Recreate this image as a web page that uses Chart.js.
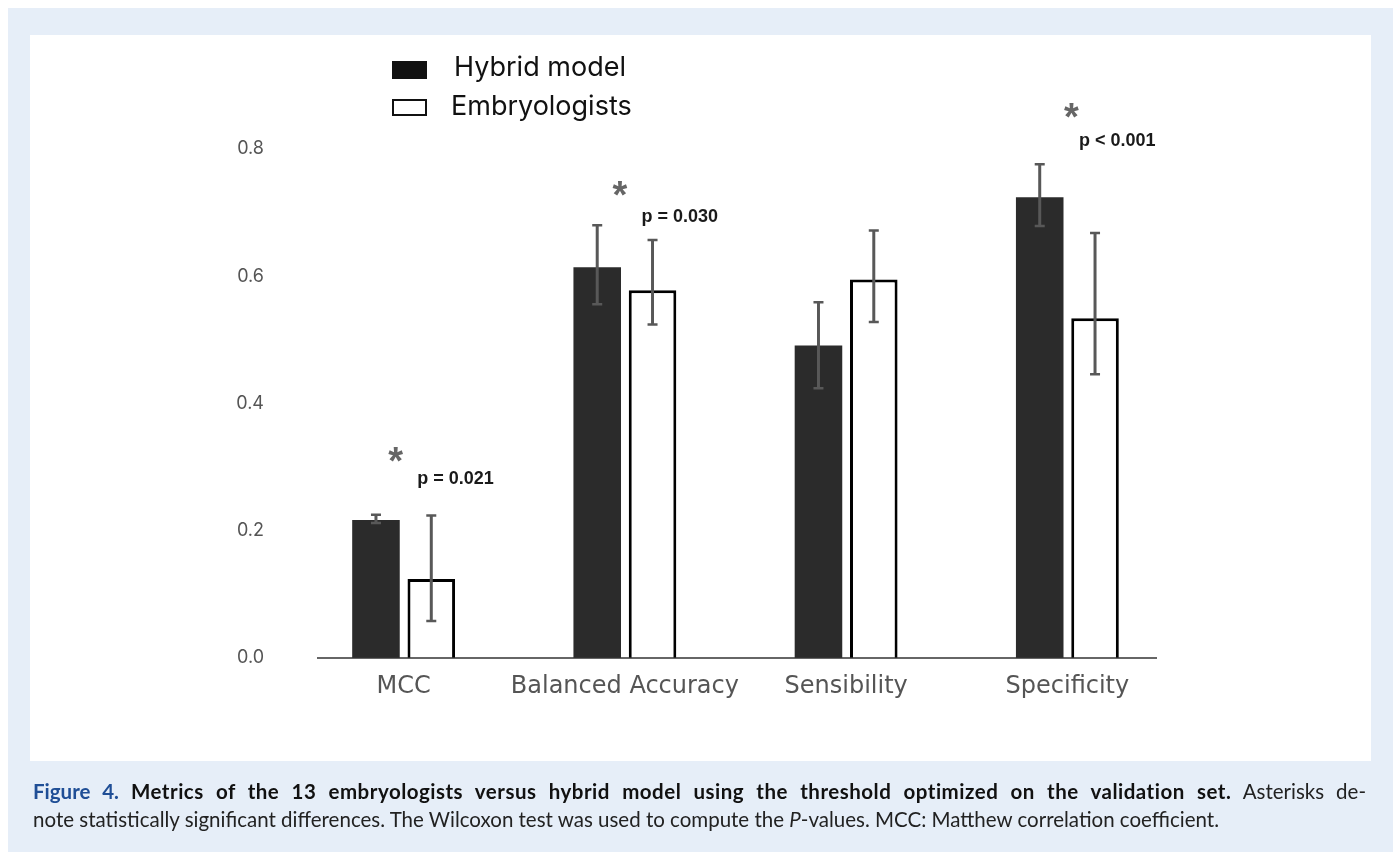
<!DOCTYPE html>
<html>
<head>
<meta charset="utf-8">
<script src="https://cdn.jsdelivr.net/npm/chart.js@4.4.1/dist/chart.umd.min.js"></script>
<style>
  html, body { margin: 0; padding: 0; background: #ffffff; width: 1394px; height: 852px; overflow: hidden; }
  #bg { position: absolute; left: 8px; top: 8px; width: 1385px; height: 844px; background: #e6eef8; }
  #panel { position: absolute; left: 30px; top: 35px; width: 1341px; height: 726px; background: #ffffff; }
  #chart { position: absolute; left: 0; top: 0; }
  .legend { position: absolute; font-family: "Inter", "Noto Sans", sans-serif; font-size: 27px; color: #111; line-height: 32px; }
  .sw { position: absolute; box-sizing: border-box; }
  #caption { position: absolute; left: 33px; top: 777px; width: 1333px; font-family: "Lato", "Open Sans", sans-serif; font-size: 20.5px; color: #222; line-height: 28px; }
  #caption .l1 { text-align: justify; text-align-last: justify; white-space: nowrap; display: block; }
  #caption .fig { color: #1f4e96; font-weight: bold; }
  #caption b { color: #111; letter-spacing: 0.5px; }
</style>
</head>
<body>
<div id="bg"></div>
<div id="panel"></div>
<canvas id="chart" width="1394" height="852"></canvas>
<div id="legend"></div>
<div id="caption">
  <span class="l1"><span class="fig">Figure 4.</span> <b>Metrics of the 13 embryologists versus hybrid model using the threshold optimized on the validation set.</b> Asterisks de-</span>
  <span>note statistically significant differences. The Wilcoxon test was used to compute the <i>P</i>-values. MCC: Matthew correlation coefficient.</span>
</div>
<script>
// ---- data ----
const categories = ["MCC", "Balanced Accuracy", "Sensibility", "Specificity"];
const seriesNames = ["Hybrid model", "Embryologists"];
const hybridValues = [0.217, 0.614, 0.491, 0.724];
const hybridErrLow = [0.212, 0.556, 0.424, 0.679];
const hybridErrHigh = [0.225, 0.680, 0.559, 0.776];
const embryoValues = [0.124, 0.578, 0.595, 0.534];
const embryoErrLow = [0.058, 0.524, 0.528, 0.446];
const embryoErrHigh = [0.224, 0.657, 0.672, 0.668];
const pLabels = ["p = 0.021", "p = 0.030", "", "p < 0.001"];
const starY = [0.316, 0.734, null, 0.857];
const pLabelY = [0.282, 0.693, null, 0.812];
const yTicks = [0.0, 0.2, 0.4, 0.6, 0.8];

// ---- legend (HTML) ----
const legend = document.getElementById('legend');
legend.innerHTML =
  '<div class="sw" style="left:392px;top:61px;width:35px;height:18px;background:#111;"></div>' +
  '<div class="legend" style="left:454px;top:51px;">' + seriesNames[0] + '</div>' +
  '<div class="sw" style="left:392px;top:99px;width:35px;height:17px;border:2px solid #111;background:#fff;"></div>' +
  '<div class="legend" style="left:451px;top:90px;">' + seriesNames[1] + '</div>';

const annotationStyle = { starDx: [-8, -5, 0, 4], pDx: [-14, -11, 0, -16] };

const errBarPlugin = {
  id: 'errbars',
  afterDatasetsDraw(chart) {
    const ctx = chart.ctx;
    const y = chart.scales.y;
    const errs = [[hybridErrLow, hybridErrHigh], [embryoErrLow, embryoErrHigh]];
    ctx.save();
    ctx.strokeStyle = '#585858';
    errs.forEach((pair, di) => {
      const meta = chart.getDatasetMeta(di);
      meta.data.forEach((bar, i) => {
        const x = bar.x;
        const yl = y.getPixelForValue(pair[0][i]);
        const yh = y.getPixelForValue(pair[1][i]);
        ctx.lineWidth = 3;
        ctx.beginPath(); ctx.moveTo(x, yl); ctx.lineTo(x, yh); ctx.stroke();
        ctx.lineWidth = 2.5;
        ctx.beginPath();
        ctx.moveTo(x - 5, yl); ctx.lineTo(x + 5, yl);
        ctx.moveTo(x - 5, yh); ctx.lineTo(x + 5, yh);
        ctx.stroke();
      });
    });
    // baseline
    const ca = chart.chartArea;
    const y0 = y.getPixelForValue(0);
    ctx.strokeStyle = '#333';
    ctx.lineWidth = 1.5;
    ctx.beginPath(); ctx.moveTo(ca.left + 24, y0); ctx.lineTo(ca.right - 21, y0); ctx.stroke();
    // significance annotations
    const metaH = chart.getDatasetMeta(0);
    const metaE = chart.getDatasetMeta(1);
    categories.forEach((c, i) => {
      if (!pLabels[i]) return;
      const xh = metaH.data[i].x, xe = metaE.data[i].x;
      const mid = (xh + xe) / 2;
      ctx.fillStyle = '#666';
      ctx.font = 'bold 38px "Liberation Sans", Arial, sans-serif';
      ctx.textAlign = 'center';
      ctx.textBaseline = 'alphabetic';
      ctx.fillText('*', mid + annotationStyle.starDx[i], y.getPixelForValue(starY[i]) + 17);
      ctx.fillStyle = '#1a1a1a';
      ctx.font = 'bold 18px "Liberation Sans", Arial, sans-serif';
      ctx.textAlign = 'left';
      ctx.textBaseline = 'middle';
      ctx.fillText(pLabels[i], xe + annotationStyle.pDx[i], y.getPixelForValue(pLabelY[i]));
    });
    ctx.restore();
  }
};

new Chart(document.getElementById('chart'), {
  type: 'bar',
  data: {
    labels: categories,
    datasets: [
      { label: seriesNames[0], data: hybridValues, backgroundColor: '#2b2b2b', borderWidth: 0,
        categoryPercentage: 0.5, barPercentage: 0.86 },
      { label: seriesNames[1], data: embryoValues, backgroundColor: '#ffffff', borderColor: '#000000', borderWidth: 3,
        categoryPercentage: 0.5, barPercentage: 0.86 }
    ]
  },
  options: {
    responsive: false,
    animation: false,
    layout: { padding: { left: 0, right: 1394 - 1178, top: 149, bottom: 0 } },
    plugins: { legend: { display: false }, tooltip: { enabled: false } },
    scales: {
      x: {
        grid: { display: false, drawTicks: false },
        border: { display: false },
        ticks: { color: '#555', font: { family: '"DejaVu Sans", Inter, sans-serif', size: 24 }, padding: 14,
                 maxRotation: 0, minRotation: 0, autoSkip: false },
        afterFit(s) { s.height = 852 - 658; }
      },
      y: {
        min: 0, max: 0.8,
        afterBuildTicks(s) { s.ticks = yTicks.map(v => ({ value: v })); },
        grid: { display: false, drawTicks: false },
        border: { display: false },
        ticks: { color: '#555', font: { family: 'Inter, "Noto Sans", sans-serif', size: 18 }, padding: 29,
                 callback: v => Number(v).toFixed(1) },
        afterFit(s) { s.width = 293; }
      }
    }
  },
  plugins: [errBarPlugin]
});
</script>
</body>
</html>
